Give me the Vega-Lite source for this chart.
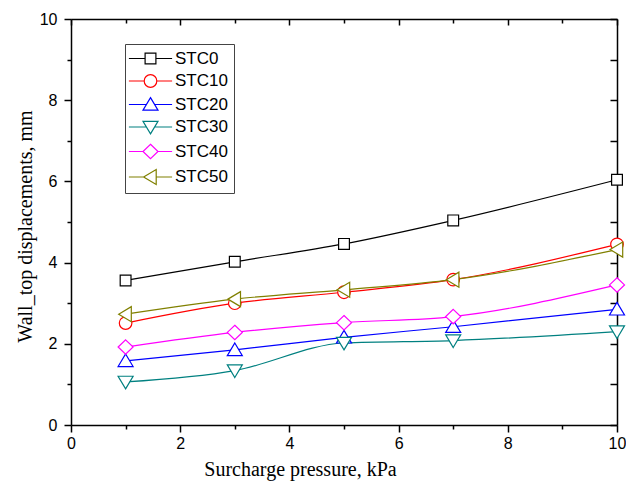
{
  "$schema": "https://vega.github.io/schema/vega-lite/v6.json",
  "width": 546,
  "height": 406,
  "autosize": "none",
  "padding": {"left": 71, "top": 19, "right": 9, "bottom": 59},
  "background": "white",
  "config": {"view": {"stroke": null}},
  "data": {
    "values": [
      {"p": 1, "d": 3.56, "s": "STC0"}, {"p": 3, "d": 4.02, "s": "STC0"}, {"p": 5, "d": 4.46, "s": "STC0"}, {"p": 7, "d": 5.04, "s": "STC0"}, {"p": 10, "d": 6.04, "s": "STC0"},
      {"p": 1, "d": 2.51, "s": "STC10"}, {"p": 3, "d": 3.0, "s": "STC10"}, {"p": 5, "d": 3.27, "s": "STC10"}, {"p": 7, "d": 3.58, "s": "STC10"}, {"p": 10, "d": 4.45, "s": "STC10"},
      {"p": 1, "d": 1.58, "s": "STC20"}, {"p": 3, "d": 1.85, "s": "STC20"}, {"p": 5, "d": 2.16, "s": "STC20"}, {"p": 7, "d": 2.42, "s": "STC20"}, {"p": 10, "d": 2.85, "s": "STC20"},
      {"p": 1, "d": 1.06, "s": "STC30"}, {"p": 3, "d": 1.34, "s": "STC30"}, {"p": 5, "d": 2.02, "s": "STC30"}, {"p": 7, "d": 2.08, "s": "STC30"}, {"p": 10, "d": 2.3, "s": "STC30"},
      {"p": 1, "d": 1.92, "s": "STC40"}, {"p": 3, "d": 2.28, "s": "STC40"}, {"p": 5, "d": 2.52, "s": "STC40"}, {"p": 7, "d": 2.67, "s": "STC40"}, {"p": 10, "d": 3.45, "s": "STC40"},
      {"p": 1, "d": 2.73, "s": "STC50"}, {"p": 3, "d": 3.1, "s": "STC50"}, {"p": 5, "d": 3.33, "s": "STC50"}, {"p": 7, "d": 3.58, "s": "STC50"}, {"p": 10, "d": 4.32, "s": "STC50"}
    ]
  },
  "resolve": {"axis": {"x": "independent", "y": "independent"}, "scale": {"shape": "independent"}, "legend": {"shape": "independent", "color": "independent"}},
  "layer": [
    {
      "mark": {"type": "line", "interpolate": "monotone", "strokeWidth": 1.2},
      "encoding": {
        "x": {
          "field": "p", "type": "quantitative",
          "scale": {"domain": [0, 10], "nice": false, "zero": false},
          "axis": {
            "title": "Surcharge pressure, kPa",
            "values": [0, 1, 2, 3, 4, 5, 6, 7, 8, 9, 10],
            "labelExpr": "datum.value % 2 === 0 ? datum.label : ''",
            "grid": false,
            "domainColor": "black", "domainWidth": 1.5,
            "tickColor": "black", "tickWidth": 1.5,
            "tickSize": {"condition": {"test": "datum.value % 2 === 0", "value": 7}, "value": 4},
            "labelFont": "Liberation Sans", "labelFontSize": 16, "labelColor": "black",
            "labelPadding": 3, "labelFlush": false,
            "titleFont": "Liberation Serif", "titleFontSize": 20, "titleFontWeight": "normal", "titleColor": "black",
            "titleX": 229, "titleY": 50, "titleAlign": "center", "titleBaseline": "alphabetic"
          }
        },
        "y": {
          "field": "d", "type": "quantitative",
          "scale": {"domain": [0, 10], "nice": false},
          "axis": {
            "title": "Wall_top displacements, mm",
            "values": [0, 1, 2, 3, 4, 5, 6, 7, 8, 9, 10],
            "labelExpr": "datum.value % 2 === 0 ? datum.label : ''",
            "grid": false,
            "domainColor": "black", "domainWidth": 1.5,
            "tickColor": "black", "tickWidth": 1.5,
            "tickSize": {"condition": {"test": "datum.value % 2 === 0", "value": 7}, "value": 4},
            "labelFont": "Liberation Sans", "labelFontSize": 16, "labelColor": "black",
            "labelPadding": 7, "labelFlush": false,
            "titleFont": "Liberation Serif", "titleFontSize": 20, "titleFontWeight": "normal", "titleColor": "black",
            "titleX": -40, "titleY": 207, "titleAngle": -90, "titleAlign": "center", "titleBaseline": "alphabetic"
          }
        },
        "color": {
          "field": "s", "type": "nominal",
          "scale": {
            "domain": ["STC0", "STC10", "STC20", "STC30", "STC40", "STC50"],
            "range": ["#000000", "#FF0000", "#0000FF", "#008080", "#FF00FF", "#808000"]
          },
          "legend": null
        }
      }
    },
    {
      "mark": {"type": "point", "filled": false, "fill": "white", "fillOpacity": 1, "strokeWidth": 1.2, "size": 144, "opacity": 1},
      "encoding": {
        "x": {
          "field": "p", "type": "quantitative",
          "axis": {
            "orient": "top", "title": null, "labels": false, "grid": false,
            "values": [0, 1, 2, 3, 4, 5, 6, 7, 8, 9, 10],
            "domainColor": "black", "domainWidth": 1.5,
            "tickColor": "black", "tickWidth": 1.5,
            "tickSize": {"condition": {"test": "datum.value % 2 === 0", "value": -6}, "value": -4}
          }
        },
        "y": {
          "field": "d", "type": "quantitative",
          "axis": {
            "orient": "right", "title": null, "labels": false, "grid": false,
            "values": [0, 1, 2, 3, 4, 5, 6, 7, 8, 9, 10],
            "domainColor": "black", "domainWidth": 1.5,
            "tickColor": "black", "tickWidth": 1.5,
            "tickSize": -7
          }
        },
        "color": {"field": "s", "type": "nominal", "legend": null},
        "shape": {
          "field": "s", "type": "nominal",
          "scale": {
            "domain": ["STC0", "STC10", "STC20", "STC30", "STC40", "STC50"],
            "range": [
              "M-0.9,-0.9H0.9V0.9H-0.9Z",
              "M-1.05,0A1.05,1.05,0,1,0,1.05,0A1.05,1.05,0,1,0,-1.05,0Z",
              "M0,-1.15L1.25,0.95L-1.25,0.95Z",
              "M0,1.15L1.25,-0.95L-1.25,-0.95Z",
              "M0,-1.2L1.25,0L0,1.2L-1.25,0Z",
              "M-1.15,0L0.95,-1.25L0.95,1.25Z"
            ]
          },
          "legend": null
        }
      }
    },
    {
      "mark": {"type": "point", "filled": false, "strokeWidth": 1.2, "size": 144, "opacity": 0},
      "encoding": {
        "x": {"field": "p", "type": "quantitative", "axis": null},
        "y": {"field": "d", "type": "quantitative", "axis": null},
        "color": {"field": "s", "type": "nominal"},
        "shape": {
          "field": "s", "type": "nominal",
          "scale": {
            "domain": ["STC0", "STC10", "STC20", "STC30", "STC40", "STC50"],
            "range": [
              "M-3.6,0H-0.9M0.9,0H3.6M-0.9,-0.9H0.9V0.9H-0.9Z",
              "M-3.6,0H-1.05M1.05,0H3.6M-1.05,0A1.05,1.05,0,1,0,1.05,0A1.05,1.05,0,1,0,-1.05,0Z",
              "M-3.6,0H-0.68M0.68,0H3.6M0,-1.15L1.25,0.95L-1.25,0.95Z",
              "M-3.6,0H-0.68M0.68,0H3.6M0,1.15L1.25,-0.95L-1.25,-0.95Z",
              "M-3.6,0H-1.25M1.25,0H3.6M0,-1.2L1.25,0L0,1.2L-1.25,0Z",
              "M-3.6,0H-1.15M0.95,0H3.6M-1.15,0L0.95,-1.25L0.95,1.25Z"
            ]
          },
          "legend": {
            "title": null,
            "orient": "none",
            "legendX": 54,
            "legendY": 25,
            "strokeColor": "#444444",
            "padding": 6,
            "symbolSize": 144,
            "symbolStrokeWidth": 1.2,
            "symbolFillColor": "white",
            "symbolOpacity": 1,
            "symbolOffset": 11,
            "labelOffset": 16,
            "labelFont": "Liberation Sans",
            "labelFontSize": 17,
            "labelColor": "black",
            "rowPadding": 4.5
          }
        }
      }
    }
  ]
}
